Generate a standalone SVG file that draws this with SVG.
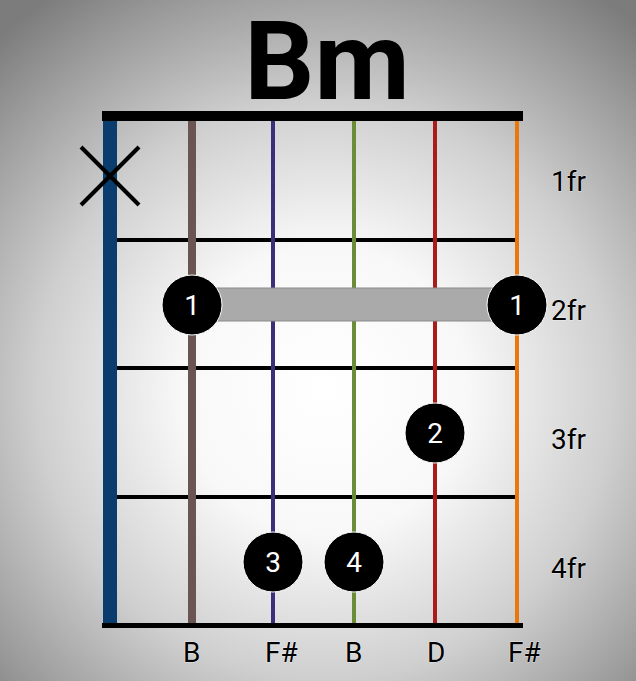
<svg xmlns="http://www.w3.org/2000/svg" width="636" height="681" viewBox="0 0 636 681">
  <defs>
    <radialGradient id="bg" cx="325" cy="390" r="480" gradientUnits="userSpaceOnUse">
      <stop offset="0" stop-color="#ffffff"/>
      <stop offset="0.3" stop-color="#f8f8f8"/>
      <stop offset="0.6" stop-color="#cfcfcf"/>
      <stop offset="0.85" stop-color="#9c9c9c"/>
      <stop offset="1" stop-color="#7c7c7c"/>
    </radialGradient>
    <style>
      .fret { stroke: #000; stroke-width: 4; }
      .str { stroke-linecap: butt; }
      .dot { fill: #000; stroke: #fff; stroke-width: 1; }
      .num { font-family: Roboto, "Liberation Sans", sans-serif; font-size: 28px; fill: #fff; text-anchor: middle; }
      .lbl { font-family: Roboto, "Liberation Sans", sans-serif; font-size: 28px; fill: #000; stroke: #fff; stroke-width: 0.6; paint-order: stroke; }
    </style>
  </defs>
  <rect x="0" y="0" width="636" height="681" fill="url(#bg)"/>

  <text x="327" y="99" font-family="Roboto, 'Liberation Sans', sans-serif" font-weight="bold" font-size="110" text-anchor="middle" fill="#000">Bm</text>

  <g id="board">
    <rect x="102" y="111" width="421" height="10" fill="#000"/>
    <rect x="102" y="623" width="421" height="5" fill="#000"/>
    <line class="fret" x1="117" y1="240" x2="517" y2="240"/>
    <line class="fret" x1="117" y1="368" x2="517" y2="368"/>
    <line class="fret" x1="117" y1="497" x2="517" y2="497"/>
  </g>

  <g id="strings">
    <line class="str" x1="110" y1="121" x2="110" y2="623" stroke="#0b3c6e" stroke-width="14"/>
    <line class="str" x1="192" y1="121" x2="192" y2="623" stroke="#6a5552" stroke-width="8"/>
    <line class="str" x1="273" y1="121" x2="273" y2="623" stroke="#3b2f7c" stroke-width="4"/>
    <line class="str" x1="354" y1="121" x2="354" y2="623" stroke="#6b8c38" stroke-width="4"/>
    <line class="str" x1="435" y1="121" x2="435" y2="623" stroke="#a81c1c" stroke-width="4"/>
    <line class="str" x1="517" y1="121" x2="517" y2="623" stroke="#e8770e" stroke-width="4"/>
  </g>

  <g id="mute">
    <line x1="81" y1="147" x2="139" y2="205" stroke="#000" stroke-width="4"/>
    <line x1="139" y1="147" x2="81" y2="205" stroke="#000" stroke-width="4"/>
  </g>

  <g id="barre">
    <rect x="192" y="288" width="325" height="33" fill="#aaaaaa" stroke="#8a8a8a" stroke-width="1"/>
  </g>

  <g id="finger-1a">
    <circle class="dot" cx="192" cy="305" r="30"/>
    <text class="num" x="192" y="315">1</text>
  </g>
  <g id="finger-1b">
    <circle class="dot" cx="517" cy="305" r="30"/>
    <text class="num" x="517" y="315">1</text>
  </g>
  <g id="finger-2">
    <circle class="dot" cx="435" cy="433" r="30"/>
    <text class="num" x="435" y="443">2</text>
  </g>
  <g id="finger-3">
    <circle class="dot" cx="273" cy="562" r="30"/>
    <text class="num" x="273" y="572">3</text>
  </g>
  <g id="finger-4">
    <circle class="dot" cx="354" cy="562" r="30"/>
    <text class="num" x="354" y="572">4</text>
  </g>

  <g id="fret-labels">
    <text class="lbl" x="551" y="191">1fr</text>
    <text class="lbl" x="551" y="320">2fr</text>
    <text class="lbl" x="551" y="449">3fr</text>
    <text class="lbl" x="551" y="578">4fr</text>
  </g>

  <g id="notes">
    <text class="lbl" x="183" y="662">B</text>
    <text class="lbl" x="265" y="662">F#</text>
    <text class="lbl" x="345" y="662">B</text>
    <text class="lbl" x="427" y="662">D</text>
    <text class="lbl" x="508" y="662">F#</text>
  </g>
</svg>
